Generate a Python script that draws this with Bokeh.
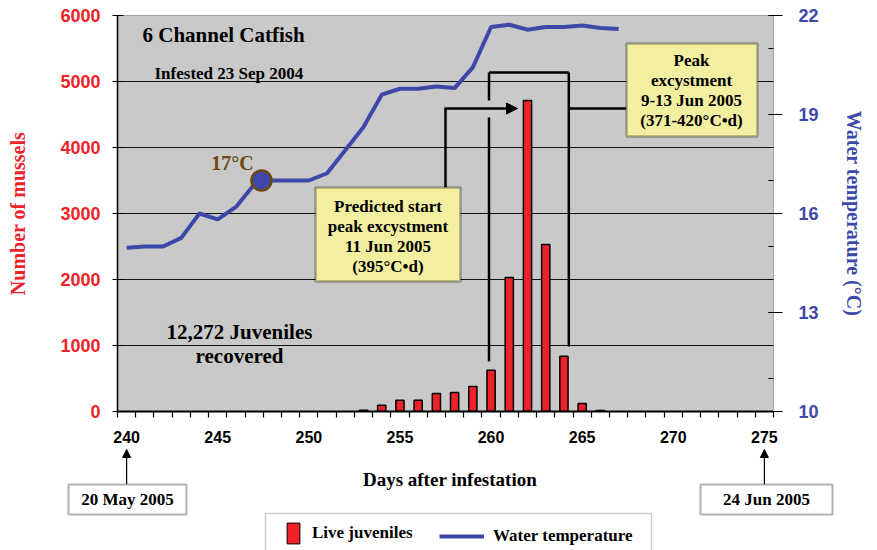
from bokeh.plotting import figure
from bokeh.layouts import column
from bokeh.models import (Range1d, LinearAxis, FixedTicker, Label, BoxAnnotation, Arrow,
                          NormalHead, Legend, LegendItem, ColumnDataSource)
from bokeh.embed import file_html
from bokeh.resources import INLINE

# ---------------- data ----------------
bar_days = list(range(253, 267))
live_juveniles = [20, 95, 171, 171, 273, 288, 379, 626, 2030, 4712, 2530, 838, 121, 15]

temp_days = list(range(240, 268))
water_temp = [14.96, 15.0, 15.0, 15.26, 16.0, 15.82, 16.2, 16.88, 17.0, 17.0,
              17.0, 17.22, 17.92, 18.62, 19.6, 19.78, 19.78, 19.85, 19.8, 20.43,
              21.65, 21.72, 21.57, 21.65, 21.65, 21.7, 21.62, 21.59]

x_tick_labels = [240, 245, 250, 255, 260, 265, 270, 275]
count_ticks = [0, 1000, 2000, 3000, 4000, 5000, 6000]
temp_ticks = [10, 13, 16, 19, 22]
temp_minor_ticks = list(range(10, 23))

highlight_day = [247.4]
highlight_temp = [17.0]

RED = "#EE2228"
BLUE = "#3D48A8"
BROWN = "#6B4712"
YELLOW = "#F3EFA0"
SERIF = "Liberation Serif"
SANS = "Liberation Sans"

# reference-pixel -> data helpers (annotations only)
def X(px):
    return 239.5 + (px - 117) * 36.0 / 656

def Y(py):
    return (411 - py) * 6000.0 / 396

TOP_H = 447

p = figure(width=877, height=TOP_H, x_range=Range1d(239.5, 275.5), y_range=Range1d(0, 6000),
           output_backend="svg", toolbar_location=None,
           min_border_left=117, min_border_right=104, min_border_top=15,
           min_border_bottom=TOP_H - 411)
p.frame_align = False
p.extra_y_ranges = {"temp": Range1d(10, 22)}

p.background_fill_color = "#C9C9C9"
p.border_fill_color = "white"
p.outline_line_color = "#A0A0A0"
p.xgrid.grid_line_color = None
p.ygrid.ticker = FixedTicker(ticks=[1000, 2000, 3000, 4000, 5000])
p.ygrid.grid_line_color = "#111111"
p.ygrid.grid_line_width = 1

# left axis
la = p.left[0]
la.ticker = FixedTicker(ticks=count_ticks)
la.major_label_text_color = RED
la.major_label_text_font = SANS
la.major_label_text_font_style = "bold"
la.major_label_text_font_size = "18px"
la.major_tick_in = 6
la.major_tick_out = 5
la.minor_tick_line_color = None
la.major_label_standoff = 12
la.axis_line_width = 1.5
la.axis_label = "Number of mussels"
la.axis_label_text_color = RED
la.axis_label_text_font = SERIF
la.axis_label_text_font_style = "bold"
la.axis_label_text_font_size = "20px"
la.axis_label_standoff = 28

# bottom axis
ba = p.below[0]
ba.ticker = FixedTicker(ticks=x_tick_labels, minor_ticks=[239.5 + i for i in range(37)])
ba.major_tick_in = 0
ba.major_tick_out = 0
ba.minor_tick_in = 0
ba.minor_tick_out = 6
ba.minor_tick_line_color = "black"
ba.minor_tick_line_width = 1.2
ba.axis_line_width = 2
ba.major_label_standoff = 13
ba.major_label_text_font = SANS
ba.major_label_text_font_style = "bold"
ba.major_label_text_font_size = "16px"
ba.major_label_text_color = "black"

# right axis
ra = LinearAxis(y_range_name="temp",
                ticker=FixedTicker(ticks=temp_ticks, minor_ticks=temp_minor_ticks),
                axis_label="Water temperature (°C)")
ra.major_label_text_color = BLUE
ra.major_label_text_font = SANS
ra.major_label_text_font_style = "bold"
ra.major_label_text_font_size = "18px"
ra.major_tick_in = 5
ra.major_tick_out = 9
ra.minor_tick_in = 5
ra.minor_tick_out = 0
ra.major_tick_line_color = "black"
ra.minor_tick_line_color = "black"
ra.major_label_standoff = 16
ra.axis_line_color = "#A8A8A8"
ra.axis_label_text_color = BLUE
ra.axis_label_text_font = SERIF
ra.axis_label_text_font_style = "bold"
ra.axis_label_text_font_size = "20px"
ra.axis_label_standoff = 21
p.add_layout(ra, "right")

# ---------------- glyphs ----------------
bars = p.vbar(x=bar_days, top=live_juveniles, width=0.45, fill_color=RED,
              line_color="black", line_width=1.5)
line = p.line(temp_days, water_temp, line_width=4, line_color=BLUE, y_range_name="temp")
p.scatter(highlight_day, highlight_temp, size=20, fill_color=BLUE, line_color=BROWN,
          line_width=2.5, y_range_name="temp")

# ---------------- texts ----------------
def add_text(fig, txt, x, y, size, color="black", align="left"):
    fig.add_layout(Label(x=x, y=y, text=txt, text_font=SERIF, text_font_style="bold",
                         text_font_size=size, text_color=color, text_align=align,
                         text_baseline="middle", text_line_height=1.05))

add_text(p, "6 Channel Catfish", X(142), Y(34), "21px")
add_text(p, "Infested 23 Sep 2004", X(154), Y(73), "17px")
add_text(p, "12,272 Juveniles", X(239), Y(331), "21px", align="center")
add_text(p, "recovered", X(239), Y(355), "21px", align="center")
add_text(p, "17°C", X(232), Y(162), "20px", color=BROWN, align="center")

# bracket and arrows
seg = ColumnDataSource(data=dict(
    x0=[X(488.5), X(488.5), X(488.5), X(568.3), X(568.3), X(445)],
    y0=[Y(72), Y(72), Y(117), Y(72), Y(108), Y(187)],
    x1=[X(568.3), X(488.5), X(488.5), X(568.3), X(626), X(445)],
    y1=[Y(72), Y(100), Y(361), Y(346), Y(108), Y(108)],
))
p.add_layout(Arrow(end=None, source=seg, x_start="x0", y_start="y0", x_end="x1", y_end="y1",
                   line_width=2.5, line_color="black"))
p.add_layout(Arrow(end=NormalHead(size=11, fill_color="black", line_color="black"),
                   x_start=X(444), y_start=Y(108), x_end=X(517), y_end=Y(108),
                   line_width=2.5, line_color="black"))

# callout boxes
p.add_layout(BoxAnnotation(left=X(315), right=X(460), top=Y(187), bottom=Y(281),
                           fill_color=YELLOW, fill_alpha=1, line_color="black", line_width=2.5))
add_text(p, "Predicted start\npeak excystment\n11 Jun 2005\n(395°C•d)", X(387.5), Y(236),
         "17px", align="center")
p.add_layout(BoxAnnotation(left=X(626), right=X(757), top=Y(43), bottom=Y(136),
                           fill_color=YELLOW, fill_alpha=1, line_color="black", line_width=2.5))
add_text(p, "Peak\nexcystment\n9-13 Jun 2005\n(371-420°C•d)", X(691), Y(90), "17px",
         align="center")

# ---------------- lower strip: axis title, date boxes, legend ----------------
p2 = figure(width=877, height=550 - TOP_H, x_range=Range1d(X(0), X(877)),
            y_range=Range1d(550, TOP_H), output_backend="svg", toolbar_location=None,
            x_axis_type=None, y_axis_type=None, min_border=0,
            min_border_left=0, min_border_right=0, min_border_top=0, min_border_bottom=0)
p2.frame_align = False
p2.outline_line_color = None
p2.background_fill_color = "white"
p2.xgrid.grid_line_color = None
p2.ygrid.grid_line_color = None

add_text(p2, "Days after infestation", X(449.5), 479, "19px", align="center")

for day, left, right, txt in [(240, 68, 186, "20 May 2005"), (275, 700, 832, "24 Jun 2005")]:
    p2.add_layout(Arrow(end=NormalHead(size=8, fill_color="black", line_color="black"),
                        x_start=day, y_start=484, x_end=day, y_end=449,
                        line_width=1.2, line_color="black"))
    p2.add_layout(BoxAnnotation(left=X(left), right=X(right), top=484, bottom=514,
                                fill_color="white", fill_alpha=1, line_color="black",
                                line_width=2))
    add_text(p2, txt, X((left + right) / 2), 499, "17px", align="center")

# legend: hidden copies of the two series carry the styles for the swatches
leg_bar = p2.vbar(x=bar_days, top=live_juveniles, width=0.45, fill_color=RED,
                  line_color="black", line_width=1, visible=False)
leg_line = p2.line(temp_days, water_temp, line_width=4, line_color=BLUE, visible=False)

p2.add_layout(BoxAnnotation(left=X(265), right=X(651), top=513, bottom=580,
                            fill_color="white", fill_alpha=1, line_color="#555555",
                            line_width=1.5))
leg_common = dict(padding=0, margin=0, border_line_color=None, background_fill_alpha=0,
                  inactive_fill_alpha=0,
                  label_text_font=SERIF, label_text_font_style="bold",
                  label_text_font_size="17px", label_text_color="black", glyph_height=26)
leg1 = Legend(items=[LegendItem(label="Live juveniles", renderers=[leg_bar])],
              location=(285, 4), glyph_width=16, label_standoff=11, **leg_common)
leg2 = Legend(items=[LegendItem(label="Water temperature", renderers=[leg_line])],
              location=(439, 1), glyph_width=45, label_standoff=9, **leg_common)
p2.add_layout(leg1)
p2.add_layout(leg2)

layout = column(p, p2, spacing=0)
open("out.html", "w").write(file_html(layout, INLINE))
